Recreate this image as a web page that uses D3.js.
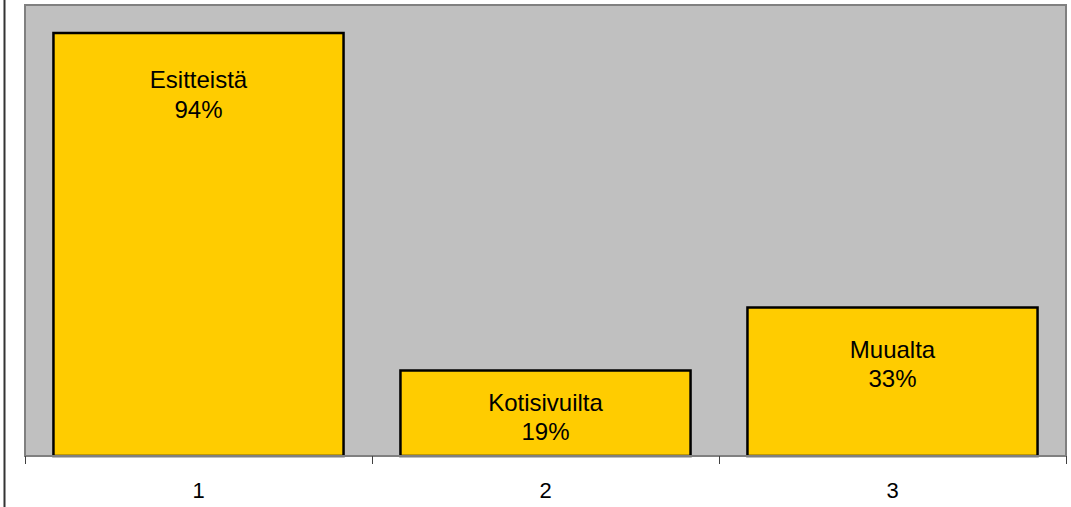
<!DOCTYPE html>
<html>
<head>
<meta charset="utf-8">
<script src="https://cdn.jsdelivr.net/npm/d3@7"></script>
<style>
  html, body { margin: 0; padding: 0; background: #ffffff; }
  svg { display: block; font-family: Arial, "Liberation Sans", sans-serif; }
</style>
</head>
<body>
<svg id="chart" width="1071" height="507"></svg>
<script>
// Source of the information (share of respondents)
const categories = ["1", "2", "3"];
const sources = ["Esitteistä", "Kotisivuilta", "Muualta"];
const shares = [0.94, 0.19, 0.33];
const shareLabels = ["94%", "19%", "33%"];

const W = 1071, H = 507;
const plot = { left: 25, top: 5, right: 1066, bottom: 456 };

const svg = d3.select("#chart");

// Outer frame edge on the left
svg.append("line")
  .attr("x1", 4.5).attr("x2", 4.5)
  .attr("y1", 0).attr("y2", H)
  .attr("stroke", "#333333")
  .attr("stroke-width", 2);

const x = d3.scaleBand()
  .domain(categories)
  .range([plot.left, plot.right])
  .paddingInner(0.164)
  .paddingOuter(0.082);

const y = d3.scaleLinear()
  .domain([0, 1])
  .range([plot.bottom, plot.bottom - 450]);

// Plot area
svg.append("rect")
  .attr("x", plot.left)
  .attr("y", plot.top)
  .attr("width", plot.right - plot.left)
  .attr("height", plot.bottom - plot.top)
  .attr("fill", "#c0c0c0")
  .attr("stroke", "#808080")
  .attr("stroke-width", 2);

// Bars
svg.append("g")
  .selectAll("rect")
  .data(categories)
  .join("rect")
  .attr("x", d => x(d))
  .attr("y", (d, i) => y(shares[i]))
  .attr("width", x.bandwidth())
  .attr("height", (d, i) => y(0) - y(shares[i]))
  .attr("fill", "#ffcc00")
  .attr("stroke", "#000000")
  .attr("stroke-width", 2.5);

// Bottom axis: ticks sit on the category boundaries
const boundaries = categories.map(d => x(d) - x.step() * x.paddingInner() / 2)
  .concat([plot.right]);
const axisG = svg.append("g");
axisG.append("line")
  .attr("x1", plot.left).attr("x2", plot.right)
  .attr("y1", plot.bottom).attr("y2", plot.bottom)
  .attr("stroke", "#808080").attr("stroke-width", 2);
axisG.selectAll("line.tick")
  .data(boundaries)
  .join("line")
  .attr("class", "tick")
  .attr("x1", d => Math.round(d) + 0.5).attr("x2", d => Math.round(d) + 0.5)
  .attr("y1", plot.bottom).attr("y2", plot.bottom + 8)
  .attr("stroke", "#404040").attr("stroke-width", 1);
axisG.selectAll("text")
  .data(categories)
  .join("text")
  .attr("x", d => x(d) + x.bandwidth() / 2)
  .attr("y", plot.bottom + 42)
  .attr("text-anchor", "middle")
  .attr("font-size", 22)
  .attr("fill", "#000")
  .text(d => d);

// Data labels inside the bars
const labelDrop = [55, 40, 50];
const labels = svg.append("g")
  .selectAll("text")
  .data(categories)
  .join("text")
  .attr("text-anchor", "middle")
  .attr("font-size", 24)
  .attr("fill", "#000");
labels.append("tspan")
  .attr("x", d => x(d) + x.bandwidth() / 2)
  .attr("y", (d, i) => y(shares[i]) + labelDrop[i])
  .text((d, i) => sources[i]);
labels.append("tspan")
  .attr("x", d => x(d) + x.bandwidth() / 2)
  .attr("y", (d, i) => y(shares[i]) + labelDrop[i] + 29.5)
  .text((d, i) => shareLabels[i]);
</script>
</body>
</html>
